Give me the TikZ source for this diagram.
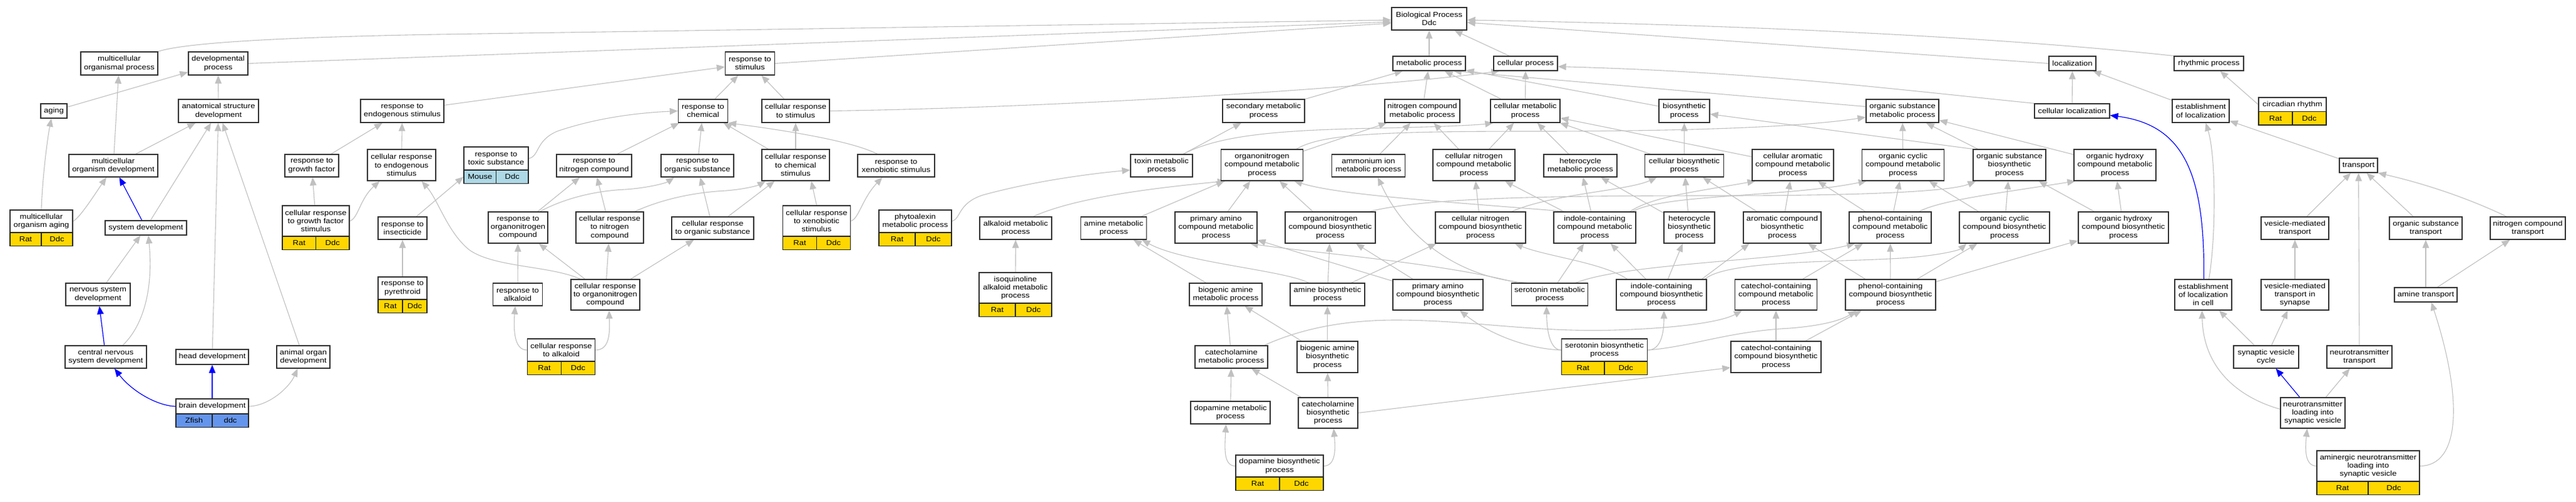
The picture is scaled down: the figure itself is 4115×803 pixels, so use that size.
\documentclass[tikz,border=0pt]{standalone}
\usepackage{fontspec}
\setmainfont{Liberation Sans}[FakeStretch=1.13]
\usetikzlibrary{arrows.meta}
\pgfdeclarelayer{bg}
\pgfsetlayers{bg,main}
\definecolor{edgegray}{RGB}{192,192,192}
\definecolor{mygold}{RGB}{255,215,0}
\definecolor{cfblue}{RGB}{100,149,237}
\definecolor{lblue}{RGB}{173,216,230}
\newcommand\gofont{\fontsize{11.5}{13.3}\selectfont}
\newcommand\gobox[6]{\node[box,minimum width=#4pt,minimum height=#5pt] (#1) at (#2,#3) {#6};}
\newcommand\gorow[7]{%
 \node[gene,fill=#5,minimum width={#4*0.5pt}] (#1-a) at ({#2-#4/4},{#3+10.75}) {#6};
 \node[gene,fill=#5,minimum width={#4*0.5pt}] (#1-b) at ({#2+#4/4},{#3+10.75}) {#7};}
\begin{document}
\begin{tikzpicture}[x=1pt,y=-1pt,
 box/.style={draw=black!80,line width=1.3pt,fill=white,inner sep=0pt,align=center,font=\gofont},
 gene/.style={draw=black!85,line width=1.3pt,inner sep=0pt,minimum height=21.5pt,font=\gofont},
 ed/.style={draw=edgegray,line width=1.1pt,-{Triangle[length=13pt,width=10.5pt]}},
 bed/.style={draw=blue,line width=1.2pt,-{Triangle[length=13pt,width=10.5pt]}}]
\useasboundingbox (0,0) rectangle (4115,803);
% row 1
\gobox{BP}{2283}{30}{120}{36}{Biological Process\\Ddc}
\gobox{mop}{190.5}{101.5}{123}{37}{multicellular\\organismal process}
\gobox{devp}{348.5}{101.5}{95}{37}{developmental\\process}
\gobox{rs}{1198}{101.5}{79}{37}{response to\\stimulus}
\gobox{mp}{2283}{101.5}{116}{23}{metabolic process}
\gobox{cp}{2437}{101.5}{102}{23}{cellular process}
\gobox{loc}{3310.5}{101.5}{75}{23}{localization}
\gobox{rp}{3528.5}{101.5}{111}{23}{rhythmic process}
% row 2
\gobox{aging}{86}{177.5}{42}{23}{aging}
\gobox{asd}{349}{177.5}{128}{37}{anatomical structure\\development}
\gobox{res}{642.5}{177.5}{133}{37}{response to\\endogenous stimulus}
\gobox{rc}{1123}{177.5}{79}{37}{response to\\chemical}
\gobox{crs}{1271}{177.5}{108}{37}{cellular response\\to stimulus}
\gobox{smp}{2018.5}{177.5}{131}{37}{secondary metabolic\\process}
\gobox{ncmp}{2272}{177.5}{120}{37}{nitrogen compound\\metabolic process}
\gobox{cmp}{2436.5}{177.5}{111}{37}{cellular metabolic\\process}
\gobox{bsp}{2690.5}{177.5}{81}{37}{biosynthetic\\process}
\gobox{osmp}{3039}{177.5}{116}{37}{organic substance\\metabolic process}
\gobox{cl}{3310}{177.5}{120}{23}{cellular localization}
\gobox{eol}{3515.5}{177.5}{91}{37}{establishment\\of localization}
\gobox{cr}{3662}{167.25}{108}{22.5}{circadian rhythm}
\gorow{cr}{3662}{178.5}{108}{mygold}{Rat}{Ddc}
% row 3
\gobox{mod}{181}{265}{142}{36}{multicellular\\organism development}
\gobox{rgf}{498}{265}{86}{36}{response to\\growth factor}
\gobox{cres}{641.5}{264}{109}{50}{cellular response\\to endogenous\\stimulus}
\gobox{rts}{792.5}{253.5}{103}{37}{response to\\toxic substance}
\gorow{rts}{792.5}{272}{103}{lblue}{Mouse}{Ddc}
\gobox{rnc}{949}{265}{120}{36}{response to\\nitrogen compound}
\gobox{ros}{1114}{265}{116}{36}{response to\\organic substance}
\gobox{crcs}{1271}{264}{108}{50}{cellular response\\to chemical\\stimulus}
\gobox{rxs}{1431.5}{265}{123}{36}{response to\\xenobiotic stimulus}
\gobox{toxin}{1855.5}{265}{99}{36}{toxin metabolic\\process}
\gobox{onmp}{2016}{264}{131}{50}{organonitrogen\\compound metabolic\\process}
\gobox{aimp}{2186}{265}{117}{36}{ammonium ion\\metabolic process}
\gobox{cncmp}{2354.5}{264}{131}{50}{cellular nitrogen\\compound metabolic\\process}
\gobox{hmp}{2524.5}{265}{117}{36}{heterocycle\\metabolic process}
\gobox{cbp}{2690.5}{265}{126}{36}{cellular biosynthetic\\process}
\gobox{cacmp}{2864}{264}{130}{50}{cellular aromatic\\compound metabolic\\process}
\gobox{occmp}{3040}{264}{131}{50}{organic cyclic\\compound metabolic\\process}
\gobox{osbp}{3210}{264}{116}{50}{organic substance\\biosynthetic\\process}
\gobox{ohcmp}{3378.5}{264}{131}{50}{organic hydroxy\\compound metabolic\\process}
\gobox{trans}{3767.5}{264.5}{61}{23}{transport}
% row 4
\gobox{moa}{66}{354}{100}{36}{multicellular\\organism aging}
\gorow{moa}{66}{372}{100}{mygold}{Rat}{Ddc}
\gobox{sd}{233}{364.5}{130}{23}{system development}
\gobox{crgf}{504.5}{353.5}{107}{49}{cellular response\\to growth factor\\stimulus}
\gorow{crgf}{504.5}{378}{107}{mygold}{Rat}{Ddc}
\gobox{ri}{643}{365}{78}{36}{response to\\insecticide}
\gobox{ron}{827.5}{364}{95}{50}{response to\\organonitrogen\\compound}
\gobox{crnc}{974}{364}{108}{50}{cellular response\\to nitrogen\\compound}
\gobox{cros}{1138.5}{365}{131}{36}{cellular response\\to organic substance}
\gobox{crxs}{1304.5}{353.5}{108}{49}{cellular response\\to xenobiotic\\stimulus}
\gorow{crxs}{1304.5}{378}{108}{mygold}{Rat}{Ddc}
\gobox{phyto}{1462}{354}{116}{36}{phytoalexin\\metabolic process}
\gorow{phyto}{1462}{372}{116}{mygold}{Rat}{Ddc}
\gobox{almp}{1622.5}{365}{115}{36}{alkaloid metabolic\\process}
\gobox{amp}{1779}{365}{105}{36}{amine metabolic\\process}
\gobox{pacmp}{1942.5}{364}{131}{50}{primary amino\\compound metabolic\\process}
\gobox{onbp}{2125}{364}{144}{50}{organonitrogen\\compound biosynthetic\\process}
\gobox{cncbp}{2365}{364}{144}{50}{cellular nitrogen\\compound biosynthetic\\process}
\gobox{icmp}{2547.5}{364}{131}{50}{indole-containing\\compound metabolic\\process}
\gobox{hbp}{2698.5}{364}{81}{50}{heterocycle\\biosynthetic\\process}
\gobox{acbp}{2847}{364}{124}{50}{aromatic compound\\biosynthetic\\process}
\gobox{pccmp}{3019.5}{364}{131}{50}{phenol-containing\\compound metabolic\\process}
\gobox{occbp}{3202}{364}{144}{50}{organic cyclic\\compound biosynthetic\\process}
\gobox{ohcbp}{3392}{364}{144}{50}{organic hydroxy\\compound biosynthetic\\process}
\gobox{vmt}{3666}{365}{108}{36}{vesicle-mediated\\transport}
\gobox{ost}{3875}{365}{116}{36}{organic substance\\transport}
\gobox{nct}{4038}{365}{120}{36}{nitrogen compound\\transport}
% row 5
\gobox{nsd}{156.5}{471}{103}{36}{nervous system\\development}
\gobox{rpy}{643}{461}{78}{36}{response to\\pyrethroid}
\gorow{rpy}{643}{479}{78}{mygold}{Rat}{Ddc}
\gobox{ralk}{827}{471}{79}{36}{response to\\alkaloid}
\gobox{crono}{967}{471.5}{110}{49}{cellular response\\to organonitrogen\\compound}
\gobox{iamp}{1622}{460.5}{116}{49}{isoquinoline\\alkaloid metabolic\\process}
\gorow{iamp}{1622}{485}{116}{mygold}{Rat}{Ddc}
\gobox{bamp}{1958}{471}{116}{36}{biogenic amine\\metabolic process}
\gobox{abp}{2120.5}{471}{119}{36}{amine biosynthetic\\process}
\gobox{pacbp}{2297}{471.5}{144}{49}{primary amino\\compound biosynthetic\\process}
\gobox{smet}{2475.5}{471}{122}{36}{serotonin metabolic\\process}
\gobox{icbp}{2654}{471.5}{144}{49}{indole-containing\\compound biosynthetic\\process}
\gobox{ccmp}{2837}{471.5}{131}{49}{catechol-containing\\compound metabolic\\process}
\gobox{pcbp}{3020}{471.5}{144}{49}{phenol-containing\\compound biosynthetic\\process}
\gobox{eolic}{3519.5}{471.5}{91}{49}{establishment\\of localization\\in cell}
\gobox{vmts}{3666}{471.5}{108}{49}{vesicle-mediated\\transport in\\synapse}
\gobox{amtr}{3875}{471.5}{100}{23}{amine transport}
% row 6
\gobox{cnsd}{169}{571}{130}{36}{central nervous\\system development}
\gobox{hd}{339}{571}{116}{24}{head development}
\gobox{aod}{484.5}{571}{85}{36}{animal organ\\development}
\gobox{cralk}{896.5}{560}{108}{36}{cellular response\\to alkaloid}
\gorow{cralk}{896.5}{578}{108}{mygold}{Rat}{Ddc}
\gobox{catmp}{1967}{571}{116}{36}{catecholamine\\metabolic process}
\gobox{babp}{2120.5}{571}{97}{50}{biogenic amine\\biosynthetic\\process}
\gobox{sbp}{2563}{560}{137}{36}{serotonin biosynthetic\\process}
\gorow{sbp}{2563}{578}{137}{mygold}{Rat}{Ddc}
\gobox{ccbp}{2837}{571}{144}{50}{catechol-containing\\compound biosynthetic\\process}
\gobox{svc}{3620}{571}{104}{36}{synaptic vesicle\\cycle}
\gobox{ntt}{3769}{571}{104}{36}{neurotransmitter\\transport}
% row 7
\gobox{bd}{339}{650}{116}{24}{brain development}
\gorow{bd}{339}{662}{116}{cfblue}{Zfish}{ddc}
\gobox{dmp}{1965.5}{660}{127}{36}{dopamine metabolic\\process}
\gobox{catbp}{2121.5}{660.5}{95}{49}{catecholamine\\biosynthetic\\process}
\gobox{ntlsv}{3694.5}{660.5}{103}{49}{neurotransmitter\\loading into\\synaptic vesicle}
% row 8
\gobox{dbp}{2044}{745.5}{140}{35}{dopamine biosynthetic\\process}
\gorow{dbp}{2044}{763}{140}{mygold}{Rat}{Ddc}
\gobox{anlsv}{3783}{745.5}{164}{49}{aminergic neurotransmitter\\loading into\\synaptic vesicle}
\gorow{anlsv}{3783}{770}{164}{mygold}{Rat}{Ddc}

\begin{pgfonlayer}{bg}
\fill[white] (0,0) rectangle (4115,803);
% top level
\draw[ed] (mop.north east) .. controls (290,70) and (420,60) .. (700,55) -- ([yshift=-2pt]BP.west);
\draw[ed] (devp.east) -- ([yshift=-5pt]BP.west);
\draw[ed] (rs.east) -- ([yshift=-7pt]BP.west);
\draw[ed] (mp) -- (BP);
\draw[ed] (cp) -- (BP);
\draw[ed] (loc.west) -- ([yshift=-6pt]BP.east);
\draw[ed] (rp.north west) .. controls (3200,60) and (2800,40) .. ([yshift=-2pt]BP.east);
% development
\draw[ed] (aging) -- (devp);
\draw[ed] (asd) -- (devp);
\draw[ed] (mod) -- (mop);
\draw[ed] (mod) -- (asd);
\draw[ed] (moa.north) .. controls (68,280) and (76,220) .. ([xshift=-4pt]aging.south);
\draw[ed] (moa.east) .. controls (128,348) and (152,310) .. ([xshift=-11pt]mod.south);
\draw[bed] (sd) -- (mod);
\draw[ed] (sd) -- (asd);
\draw[ed] (nsd) -- (sd);
\draw[ed] ([xshift=27pt]cnsd.north) .. controls (230,520) and (245,460) .. ([xshift=4pt]sd.south);
\draw[bed] (cnsd) -- (nsd);
\draw[ed] (hd) -- (asd);
\draw[ed] (aod) -- (asd);
\draw[bed] (bd.west) .. controls (250,649) and (210,625) .. ([xshift=14pt]cnsd.south);
\draw[bed] (bd) -- (hd);
\draw[ed] (bd.east) .. controls (430,649) and (462,620) .. ([xshift=-9pt]aod.south);
% response
\draw[ed] (res) -- (rs);
\draw[ed] (rc) -- (rs);
\draw[ed] (crs) -- (rs);
\draw[ed] (crs.east) .. controls (1700,172) and (2200,140) .. ([xshift=10pt]cp.south west);
\draw[ed] (rgf) -- (res);
\draw[ed] (cres) -- (res);
\draw[ed] (crgf) -- (rgf);
\draw[ed] (crgf.east) .. controls (572,350) and (575,318) .. ([xshift=-35pt]cres.south);
\draw[ed] (ri) -- (rts-a.west);
\draw[ed] (rpy) -- (ri);
\draw[ed] ([xshift=-40pt]crono.north) .. controls (880,425) and (790,428) .. (750,400) .. controls (715,372) and (700,320) .. ([xshift=32pt]cres.south);
\draw[ed] (rts.east) .. controls (862,250) and (855,225) .. (890,210) .. controls (960,186) and (1030,180) .. (rc.west);
\draw[ed] (rnc) -- (rc);
\draw[ed] (ros) -- (rc);
\draw[ed] (crcs) -- (rc);
\draw[ed] ([xshift=-30pt]rxs.north) .. controls (1360,225) and (1250,208) .. (rc.south east);
\draw[ed] (crcs) -- (crs);
\draw[ed] (ron) -- (rnc);
\draw[ed] ([xshift=35pt]ron.north) .. controls (900,318) and (950,305) .. (1000,303) .. controls (1040,300) and (1065,292) .. ([xshift=-37pt]ros.south);
\draw[ed] (crnc) -- (rnc);
\draw[ed] ([xshift=40pt]crnc.north) .. controls (1050,322) and (1100,308) .. (1160,305) .. controls (1195,302) and (1212,296) .. ([xshift=-48pt]crcs.south);
\draw[ed] (cros) -- (ros);
\draw[ed] (cros) -- (crcs);
\draw[ed] (crxs.north) -- ([xshift=25pt]crcs.south);
\draw[ed] (crxs.east) .. controls (1372,350) and (1377,318) .. ([xshift=-22pt]rxs.south);
\draw[ed] (ralk) -- (ron);
\draw[ed] (crono) -- (ron);
\draw[ed] (crono) -- (crnc);
\draw[ed] (crono) -- (cros);
\draw[ed] (cralk.west) .. controls (822,560) and (820,530) .. ([xshift=-4pt]ralk.south);
\draw[ed] (cralk.east) .. controls (975,560) and (974,530) .. ([xshift=6pt]crono.south);
% metabolic upper
\draw[ed] (ncmp) -- (mp);
\draw[ed] (smp) -- (mp);
\draw[ed] (cmp) -- (mp);
\draw[ed] (cmp) -- (cp);
\draw[ed] (bsp) -- (mp);
\draw[ed] ([yshift=7pt]osmp.west) -- ([xshift=-20pt]mp.south east);
\draw[ed] (cl.north west) .. controls (3000,140) and (2800,115) .. ([yshift=-5pt]cp.east);
\draw[ed] (cl) -- (loc);
\draw[ed] (eol) -- (loc);
\draw[ed] (cr.west) -- ([xshift=18pt]rp.south);
\draw[ed] (aimp) -- (ncmp);
\draw[ed] (cncmp) -- (ncmp);
\draw[ed] (cncmp) -- (cmp);
\draw[ed] (hmp) -- (cmp);
\draw[ed] (cbp) -- (cmp);
\draw[ed] (cbp) -- (bsp);
\draw[ed] (cacmp) -- (cmp);
\draw[ed] (onmp) -- (ncmp);
\draw[ed] (toxin) -- (smp);
\draw[ed] ([xshift=35pt]toxin.north) .. controls (1950,215) and (2050,208) .. (2200,205) .. controls (2300,203) and (2360,200) .. ([xshift=5pt]cmp.south west);
\draw[ed] ([xshift=55pt]onmp.north) .. controls (2110,215) and (2200,210) .. (2450,210) .. controls (2750,210) and (2900,200) .. ([yshift=-10pt]osmp.west);
\draw[ed] (phyto.east) .. controls (1535,350) and (1530,325) .. (1570,312) .. controls (1650,290) and (1740,278) .. ([yshift=-7pt]toxin.west);
\draw[ed] ([xshift=28pt]almp.north) .. controls (1720,315) and (1850,300) .. ([xshift=8pt]onmp.south west);
\draw[ed] (amp) -- (onmp);
\draw[ed] (pacmp) -- (onmp);
\draw[ed] (onbp) -- (onmp);
\draw[ed] ([xshift=20pt]icmp.north west) .. controls (2300,322) and (2140,312) .. ([xshift=-15pt]onmp.south east);
\draw[ed] (cncbp) -- (cncmp);
\draw[ed] (icmp) -- (cncmp);
\draw[ed] (icmp) -- (hmp);
\draw[ed] (hbp) -- (hmp);
\draw[ed] (hbp) -- (cbp);
\draw[ed] (acbp) -- (cbp);
\draw[ed] ([xshift=50pt]cncbp.north) .. controls (2480,310) and (2600,305) .. ([xshift=20pt]cbp.south west);
\draw[ed] (acbp) -- (cacmp);
\draw[ed] (pccmp) -- (cacmp);
\draw[ed] (pccmp) -- (occmp);
\draw[ed] (occbp) -- (occmp);
\draw[ed] (occbp) -- (osbp);
\draw[ed] (ohcbp) -- (osbp);
\draw[ed] (ohcbp) -- (ohcmp);
\draw[ed] ([xshift=-20pt]pccmp.north east) .. controls (3100,320) and (3200,308) .. ([xshift=3pt]ohcmp.south west);
\draw[ed] (osbp) -- (osmp);
\draw[ed] (occmp) -- (osmp);
\draw[ed] (ohcmp) -- (osmp);
\draw[ed] (osbp.north west) -- ([yshift=-5pt]bsp.east);
\draw[ed] ([xshift=-10pt]icmp.north east) .. controls (2640,315) and (2700,308) .. ([xshift=6pt]cacmp.south west);
\draw[ed] ([xshift=-6pt]icmp.north east) .. controls (2660,310) and (2850,316) .. ([xshift=8pt]occmp.south west);
\draw[ed] ([xshift=-10pt]onbp.north east) .. controls (2280,315) and (2500,313) .. (2750,313) .. controls (3000,313) and (3120,305) .. ([xshift=5pt]osbp.south west);
% metabolic lower
\draw[ed] (iamp) -- (almp);
\draw[ed] (bamp) -- (amp);
\draw[ed] (catmp) -- (bamp);
\draw[ed] (babp) -- (bamp);
\draw[ed] ([xshift=-6pt]catmp.north east) .. controls (2080,525) and (2150,512) .. (2230,512) .. controls (2350,512) and (2450,532) .. (2580,528) .. controls (2680,525) and (2750,515) .. ([xshift=12pt]ccmp.south west);
\draw[ed] (catbp) -- (catmp);
\draw[ed] (dmp) -- (catmp);
\draw[ed] (dbp.west) .. controls (1955,745) and (1956,720) .. ([xshift=-7pt]dmp.south);
\draw[ed] (dbp.east) .. controls (2135,745) and (2133,715) .. ([xshift=9pt]catbp.south);
\draw[ed] ([xshift=-30pt]abp.north) .. controls (2050,432) and (1890,420) .. ([xshift=-8pt]amp.south east);
\draw[ed] (abp) -- (onbp);
\draw[ed] ([xshift=-22pt]abp.north east) -- ([xshift=2pt]cncbp.south west);
\draw[ed] (babp) -- (abp);
\draw[ed] (catbp) -- (babp);
\draw[ed] (pacbp) -- (pacmp);
\draw[ed] (pacbp) -- (onbp);
\draw[ed] (sbp.west) .. controls (2480,560) and (2471,540) .. ([xshift=-5pt]smet.south);
\draw[ed] (sbp.west) .. controls (2440,558) and (2380,535) .. ([xshift=35pt]pacbp.south);
\draw[ed] (sbp.east) .. controls (2650,560) and (2658,540) .. ([xshift=4pt]icbp.south);
\draw[ed] (sbp.east) .. controls (2700,555) and (2760,530) .. (2860,525) .. controls (2920,520) and (2945,510) .. ([xshift=18pt]pcbp.south west);
\draw[ed] (smet) -- (icmp);
\draw[ed] ([xshift=25pt]smet.north west) .. controls (2330,445) and (2245,380) .. ([xshift=15pt]aimp.south);
\draw[ed] ([xshift=10pt]smet.north west) .. controls (2300,420) and (2100,405) .. ([xshift=-12pt]pacmp.south east);
\draw[ed] ([xshift=-20pt]smet.north east) .. controls (2600,420) and (2850,418) .. ([xshift=10pt]pccmp.south west);
\draw[ed] (icbp) -- (icmp);
\draw[ed] (icbp) -- (hbp);
\draw[ed] ([xshift=18pt]icbp.north west) .. controls (2560,420) and (2470,410) .. ([xshift=-18pt]cncbp.south east);
\draw[ed] ([xshift=-8pt]icbp.north east) -- ([xshift=10pt]acbp.south west);
\draw[ed] ([xshift=-3pt]icbp.north east) .. controls (2760,415) and (2950,420) .. (3050,412) .. controls (3100,408) and (3130,400) .. ([xshift=12pt]occbp.south west);
\draw[ed] (ccmp) -- (pccmp);
\draw[ed] (pcbp) -- (pccmp);
\draw[ed] (pcbp) -- (acbp);
\draw[ed] (pcbp) -- (occbp);
\draw[ed] (pcbp) -- (ohcbp);
\draw[ed] (ccbp) -- (ccmp);
\draw[ed] (ccbp) -- (pcbp);
\draw[ed] (catbp.east) -- ([yshift=-17pt]ccbp.west);
% transport
\draw[ed] (trans) -- (eol);
\draw[ed] ([xshift=9pt]eolic.north) .. controls (3540,380) and (3540,250) .. ([xshift=8pt]eol.south);
\draw[bed] ([xshift=1pt]eolic.north) .. controls (3522,280) and (3490,200) .. ([yshift=-7pt]cl.east);
\draw[ed] (vmt) -- (trans);
\draw[ed] (ntt) -- (trans);
\draw[ed] (ost) -- (trans);
\draw[ed] ([xshift=-34pt]nct.north) .. controls (3970,330) and (3900,300) .. (trans.south east);
\draw[ed] (amtr) -- (ost);
\draw[ed] (amtr) -- (nct);
\draw[ed] (vmts) -- (vmt);
\draw[ed] (svc) -- (eolic);
\draw[ed] (svc) -- (vmts);
\draw[bed] (ntlsv) -- (svc);
\draw[ed] (ntlsv) -- (ntt);
\draw[ed] ([yshift=6pt]ntlsv.west) .. controls (3590,640) and (3520,600) .. ([xshift=-2pt]eolic.south);
\draw[ed] (anlsv.west) .. controls (3682,745) and (3682,720) .. ([xshift=-9pt]ntlsv.south);
\draw[ed] (anlsv.east) .. controls (3930,745) and (3935,640) .. ([xshift=9pt]amtr.south);
\end{pgfonlayer}
\end{tikzpicture}
\end{document}
